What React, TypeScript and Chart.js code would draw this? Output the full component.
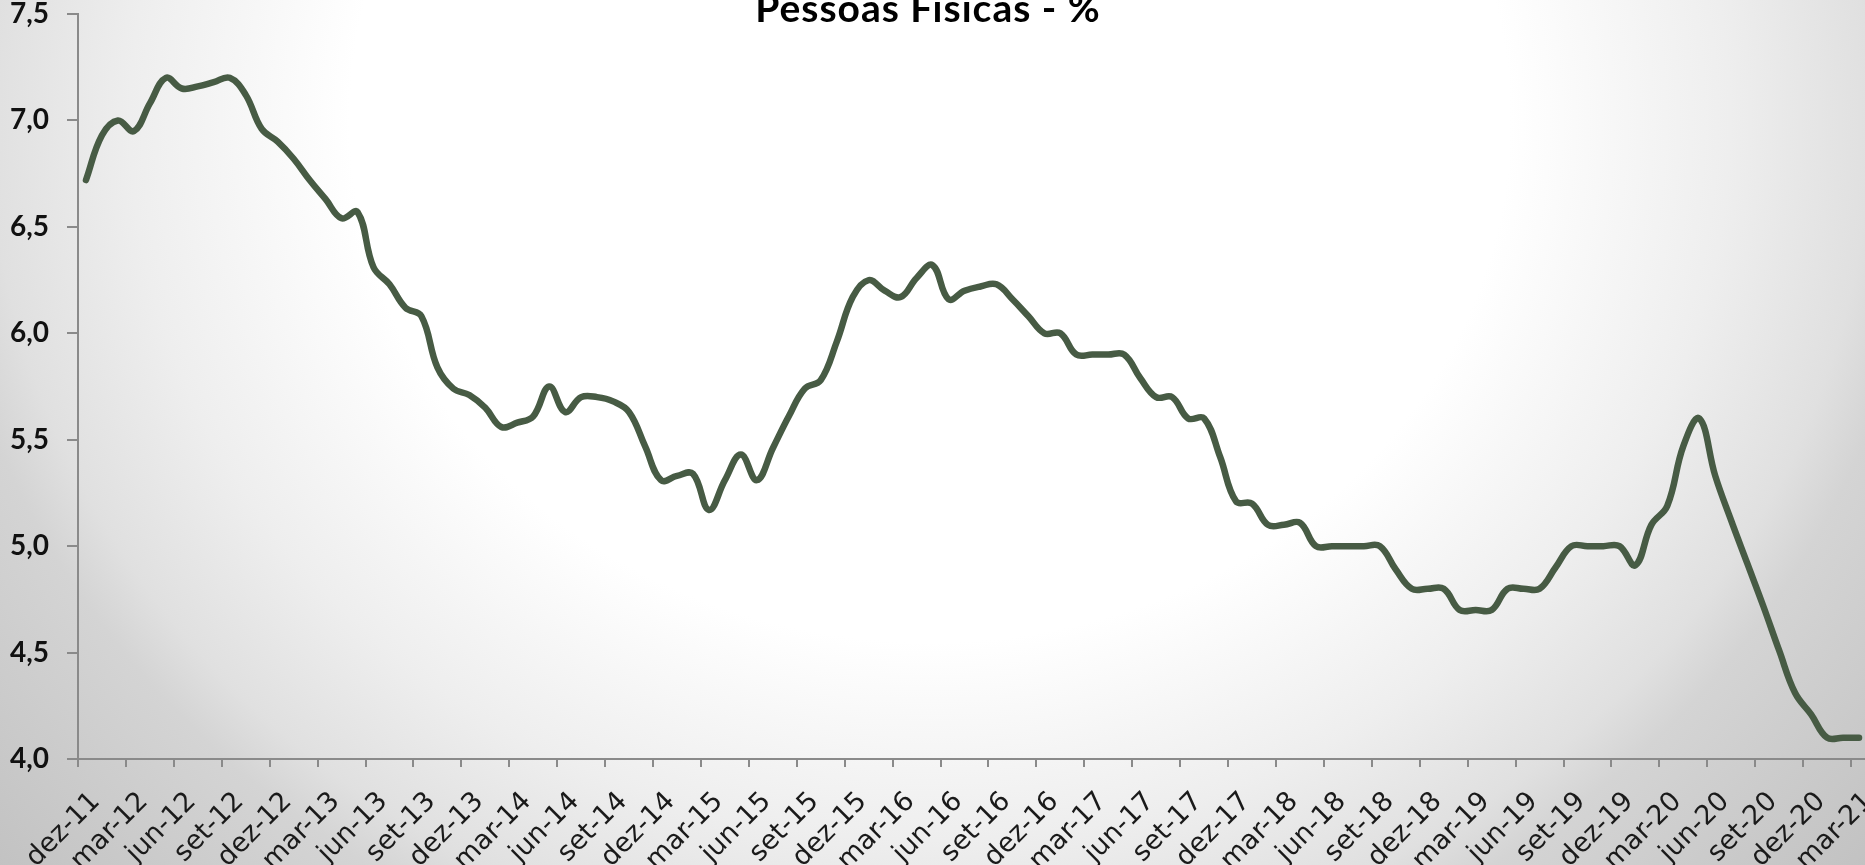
import React, { useEffect, useRef } from "react";
import { Chart, registerables } from "chart.js";

Chart.register(...registerables);

// Month abbreviations (pt-BR) used to build the monthly categories dez-11 .. mar-21
const monthNames = ["jan", "fev", "mar", "abr", "mai", "jun", "jul", "ago", "set", "out", "nov", "dez"];
const categories: string[] = Array.from({ length: 112 }, (_, i) => {
  const m = (11 + i) % 12;
  const y = 11 + Math.floor((11 + i) / 12);
  return `${monthNames[m]}-${y}`;
});

// Quarterly tick labels shown on the x axis
const tickLabels = [
  "dez-11", "mar-12", "jun-12", "set-12", "dez-12", "mar-13", "jun-13", "set-13",
  "dez-13", "mar-14", "jun-14", "set-14", "dez-14", "mar-15", "jun-15", "set-15",
  "dez-15", "mar-16", "jun-16", "set-16", "dez-16", "mar-17", "jun-17", "set-17",
  "dez-17", "mar-18", "jun-18", "set-18", "dez-18", "mar-19", "jun-19", "set-19",
  "dez-19", "mar-20", "jun-20", "set-20", "dez-20", "mar-21",
];

// Series values (monthly, %)
const values2012 = [6.72, 6.93, 7.0, 6.95, 7.08, 7.2, 7.15, 7.16, 7.18, 7.2, 7.12, 6.96, 6.9];
const values2013 = [6.82, 6.72, 6.63, 6.54, 6.57, 6.31, 6.23, 6.12, 6.08, 5.84, 5.74, 5.71];
const values2014 = [5.65, 5.56, 5.58, 5.61, 5.75, 5.63, 5.7, 5.7, 5.68, 5.63, 5.47, 5.31];
const values2015 = [5.33, 5.34, 5.17, 5.31, 5.43, 5.31, 5.46, 5.61, 5.74, 5.78, 5.96, 6.17];
const values2016 = [6.25, 6.2, 6.17, 6.26, 6.32, 6.16, 6.2, 6.22, 6.23, 6.16, 6.08, 6.0];
const values2017 = [6.0, 5.9, 5.9, 5.9, 5.9, 5.79, 5.7, 5.7, 5.6, 5.6, 5.42, 5.21];
const values2018 = [5.2, 5.1, 5.1, 5.11, 5.0, 5.0, 5.0, 5.0, 5.0, 4.89, 4.8, 4.8];
const values2019 = [4.8, 4.7, 4.7, 4.7, 4.8, 4.8, 4.8, 4.9, 5.0, 5.0, 5.0, 5.0];
const values2020 = [4.91, 5.1, 5.19, 5.47, 5.6, 5.33, 5.12, 4.92, 4.72, 4.51, 4.31, 4.21];
const values2021 = [4.1, 4.1, 4.1];

const seriesValues = [
  ...values2012, ...values2013, ...values2014, ...values2015, ...values2016,
  ...values2017, ...values2018, ...values2019, ...values2020, ...values2021,
];

const yTicks = [4.0, 4.5, 5.0, 5.5, 6.0, 6.5, 7.0, 7.5];

const CANVAS_W = 1880;
const CANVAS_H = 885;

export default function App() {
  const ref = useRef<HTMLCanvasElement | null>(null);

  useEffect(() => {
    if (!ref.current) return;
    const chart = new Chart(ref.current, {
      type: "line",
      data: {
        labels: categories,
        datasets: [
          {
            label: "Pessoas Físicas - %",
            data: seriesValues.map((v, i) => ({ x: i + 0.5, y: v })),
            borderColor: "#475b44",
            borderWidth: 6.5,
            pointRadius: 0,
            tension: 0.4,
            borderCapStyle: "round",
            borderJoinStyle: "round",
            fill: false,
          },
        ],
      },
      options: {
        responsive: false,
        maintainAspectRatio: false,
        animation: false,
        layout: { padding: { top: 34, right: 13, left: 0, bottom: 0 } },
        plugins: {
          legend: { display: false },
          tooltip: { enabled: false },
          title: { display: false },
        },
        scales: {
          x: {
            type: "linear",
            min: 0,
            max: categories.length,
            afterBuildTicks: (axis: any) => {
              axis.ticks = tickLabels.map((_, k) => ({ value: k * 3 }));
            },
            afterFit: (scale: any) => {
              scale.height = 106;
              scale.paddingLeft = 0;
              scale.paddingRight = 0;
            },
            border: { display: true, color: "#8a8a8a", width: 2 },
            grid: {
              display: true,
              drawOnChartArea: false,
              drawTicks: true,
              tickLength: 8,
              color: "#8a8a8a",
              lineWidth: 2,
            },
            ticks: {
              autoSkip: false,
              minRotation: 45,
              maxRotation: 45,
              padding: 19,
              labelOffset: 18,
              color: "#1a1a1a",
              font: { family: "'DejaVu Sans', sans-serif", size: 27, weight: "normal" },
              callback: (v: any) => tickLabels[Math.round(Number(v) / 3)],
            },
          },
          y: {
            min: 4,
            max: 7.5,
            afterBuildTicks: (axis: any) => {
              axis.ticks = yTicks.map((v) => ({ value: v }));
            },
            afterFit: (scale: any) => {
              scale.width = 78;
              scale.paddingTop = 0;
              scale.paddingBottom = 0;
            },
            border: { display: true, color: "#8a8a8a", width: 2 },
            grid: {
              display: true,
              drawOnChartArea: false,
              drawTicks: true,
              tickLength: 11,
              color: "#8a8a8a",
              lineWidth: 2,
            },
            ticks: {
              padding: 18,
              color: "#111111",
              font: { family: "Lato, sans-serif", size: 28, weight: "bold" },
              callback: (v: any) => Number(v).toFixed(1).replace(".", ","),
            },
          },
        },
      },
    });
    return () => chart.destroy();
  }, []);

  return (
    <div
      style={{
        position: "fixed",
        left: 0,
        top: 0,
        width: 1865,
        height: 865,
        overflow: "hidden",
        background:
          "radial-gradient(1000px 900px at 930px 120px, #ffffff 0%, #ffffff 58%, #eeeeee 80%, #e0e0e0 94%, #d4d4d4 100%, #c2c2c2 125%)",
      }}
    >
      <div
        style={{
          position: "absolute",
          left: 0,
          top: -12,
          textAlign: "center",
          width: 1856,
          fontFamily: "Lato, sans-serif",
          fontWeight: 700,
          fontSize: 39,
          letterSpacing: 1,
          lineHeight: 1,
          color: "#000",
          whiteSpace: "nowrap",
        }}
      >
        Pessoas Físicas - %
      </div>
      <canvas
        ref={ref}
        width={CANVAS_W}
        height={CANVAS_H}
        style={{ position: "absolute", left: 0, top: -20, width: CANVAS_W, height: CANVAS_H }}
      />
    </div>
  );
}
